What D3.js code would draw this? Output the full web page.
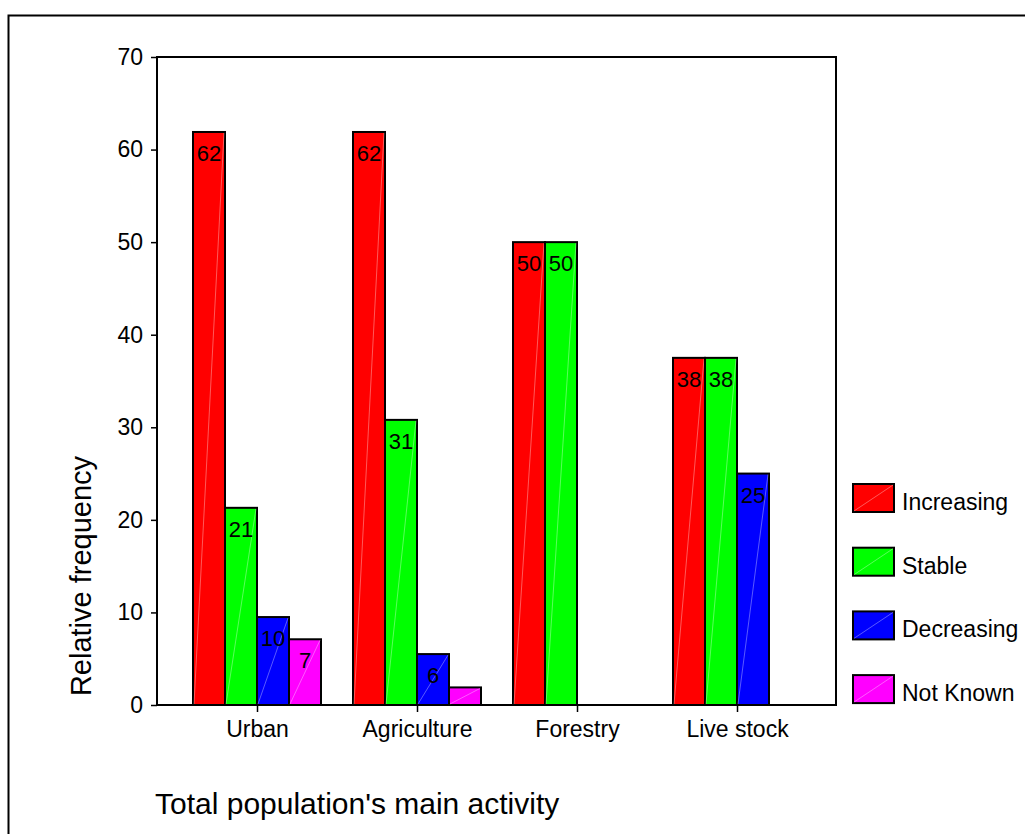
<!DOCTYPE html>
<html>
<head>
<meta charset="utf-8">
<script src="https://cdn.jsdelivr.net/npm/d3@7"></script>
<style>
  body { margin: 0; background: #fff; }
  svg { display: block; font-family: "Liberation Sans", Arial, sans-serif; }
</style>
</head>
<body>
<div id="chart"></div>
<script>
const width = 1025;
const height = 834;

// data
const categories = ["Urban", "Agriculture", "Forestry", "Live stock"];
const series = ["Increasing", "Stable", "Decreasing", "Not Known"];
const colors = ["#ff0000", "#00ff00", "#0000ff", "#ff00ff"];
const increasing = [61.9, 61.9, 50, 37.5];
const stable = [21.3, 30.8, 50, 37.5];
const decreasing = [9.5, 5.5, 0, 25];
const notKnown = [7.1, 1.9, 0, 0];
const yTicks = [0, 10, 20, 30, 40, 50, 60, 70];

const values = [increasing, stable, decreasing, notKnown];
const chartData = [];
categories.forEach((c, i) => {
    series.forEach((s, j) => {
        if (values[j][i] > 0) chartData.push({ cat: c, key: s, value: values[j][i], color: colors[j] });
    });
});

const plot = { left: 157, right: 836, top: 57, bottom: 705 };
const fontFamily = "Liberation Sans, Arial, sans-serif";

const svg = d3.select("#chart").append("svg")
    .attr("width", width)
    .attr("height", height);

// outer frame
svg.append("rect")
    .attr("x", 8.5).attr("y", 15.5)
    .attr("width", width + 10).attr("height", height + 10)
    .attr("fill", "none").attr("stroke", "#000").attr("stroke-width", 2);

const x = d3.scalePoint()
    .domain(categories)
    .range([257, 737]);

const xs = d3.scaleBand()
    .domain(series)
    .range([-64, 64]);

const y = d3.scaleLinear()
    .domain([0, 70])
    .range([plot.bottom, plot.top]);

// plot frame
svg.append("rect")
    .attr("x", plot.left).attr("y", plot.top)
    .attr("width", plot.right - plot.left).attr("height", plot.bottom - plot.top)
    .attr("fill", "none").attr("stroke", "#000").attr("stroke-width", 2);

// bars
const bars = svg.append("g").attr("class", "bars")
    .selectAll("g")
    .data(chartData)
    .join("g")
    .attr("transform", d => `translate(${x(d.cat) + xs(d.key)},0)`);

bars.append("rect")
    .attr("x", 0)
    .attr("y", d => y(d.value))
    .attr("width", xs.bandwidth())
    .attr("height", d => y(0) - y(d.value))
    .attr("fill", d => d.color)
    .attr("stroke", "#000")
    .attr("stroke-width", 2);

// faint diagonal highlight like the original renderer
bars.append("line")
    .attr("x1", 1).attr("y1", y(0) - 1)
    .attr("x2", xs.bandwidth() - 1).attr("y2", d => y(d.value) + 1)
    .attr("stroke", "#fff").attr("stroke-opacity", 0.35).attr("stroke-width", 1);

bars.filter(d => d.value >= 4).append("text")
    .attr("x", xs.bandwidth() / 2)
    .attr("y", d => y(d.value) + 29)
    .attr("text-anchor", "middle")
    .attr("font-size", 22)
    .attr("fill", "#000")
    .text(d => Math.round(d.value));

// y axis
const yAxis = d3.axisLeft(y).tickValues(yTicks).tickSize(6).tickSizeOuter(0);
svg.append("g")
    .attr("class", "y-axis")
    .attr("transform", `translate(${plot.left},0)`)
    .call(yAxis)
    .call(g => g.select(".domain").remove())
    .call(g => g.selectAll("line").attr("stroke", "#000").attr("stroke-width", 1.5))
    .call(g => g.selectAll("text").attr("font-size", 23).attr("font-family", fontFamily).attr("fill", "#000").attr("x", -14));

// x axis
const xAxis = d3.axisBottom(x).tickSize(7).tickSizeOuter(0);
svg.append("g")
    .attr("class", "x-axis")
    .attr("transform", `translate(0,${plot.bottom})`)
    .call(xAxis)
    .call(g => g.select(".domain").remove())
    .call(g => g.selectAll("line").attr("stroke", "#000").attr("stroke-width", 1.5))
    .call(g => g.selectAll("text").attr("font-size", 23).attr("font-family", fontFamily).attr("fill", "#000").attr("y", 16));

// axis titles
svg.append("text")
    .attr("transform", `translate(91,576) rotate(-90)`)
    .attr("text-anchor", "middle")
    .attr("font-size", 29)
    .text("Relative frequency");

svg.append("text")
    .attr("x", 155).attr("y", 814)
    .attr("font-size", 30)
    .text("Total population's main activity");

// legend
const legend = svg.append("g").attr("class", "legend")
    .selectAll("g")
    .data(series)
    .join("g")
    .attr("transform", (d, i) => `translate(853,${484 + i * 63.7})`);

legend.append("rect")
    .attr("width", 41).attr("height", 28)
    .attr("fill", (d, i) => colors[i])
    .attr("stroke", "#000").attr("stroke-width", 2);

legend.append("line")
    .attr("x1", 1).attr("y1", 27).attr("x2", 40).attr("y2", 1)
    .attr("stroke", "#fff").attr("stroke-opacity", 0.35);

legend.append("text")
    .attr("x", 49).attr("y", 26)
    .attr("font-size", 23)
    .text(d => d);
</script>
</body>
</html>
